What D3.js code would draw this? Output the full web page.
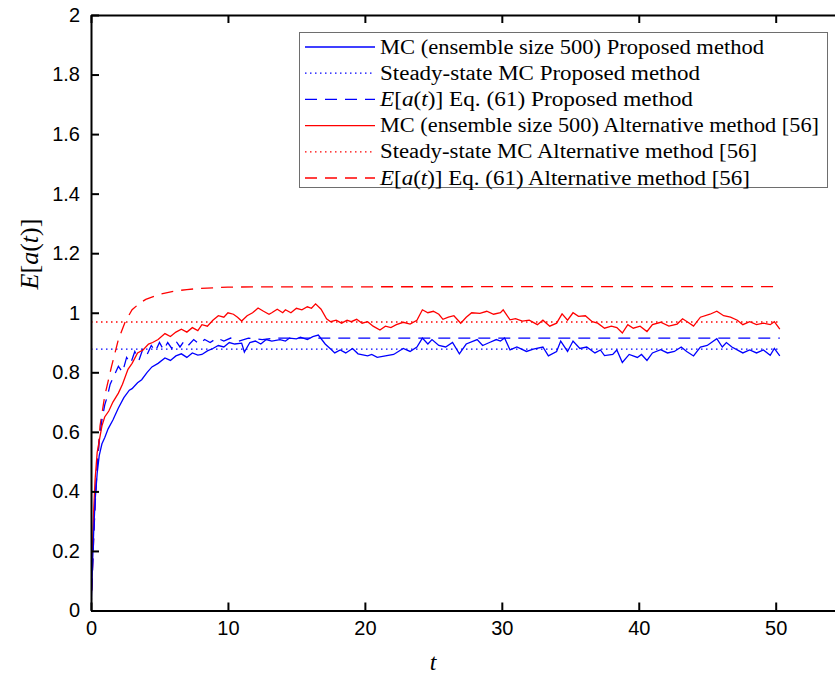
<!DOCTYPE html>
<html>
<head>
<meta charset="utf-8">
<script src="https://cdn.jsdelivr.net/npm/d3@7"></script>
<style>
  body { margin: 0; background: #fff; }
  .tick text { font-family: "Liberation Sans", Arial, sans-serif; font-size: 20px; fill: #000; }
  .leg text { font-family: "Liberation Serif", serif; font-size: 20px; fill: #000; }
</style>
</head>
<body>
<svg id="chart"></svg>
<script>
var width = 835;
var height = 678;

// series, [t, value]
var mcProposed = [
  [0,0],[0.1,0.14],[0.2,0.27],[0.3,0.37],[0.45,0.46],[0.6,0.52],[0.8,0.56],[1.0,0.58],
  [1.25,0.61],[1.6,0.64],[2.0,0.68],[2.4,0.715],[2.8,0.74],[3.0,0.745],[3.4,0.765],[3.7,0.775],
  [4.1,0.80],[4.45,0.818],[4.9,0.83],[5.4,0.848],[5.8,0.84],[6.2,0.855],[6.6,0.862],[7.0,0.85],
  [7.4,0.865],[7.8,0.858],[8.1,0.86],[8.5,0.872],[8.9,0.88],[9.3,0.89],[9.7,0.885],[10.1,0.9],
  [10.5,0.895],[11.0,0.898],[11.2,0.868],[11.6,0.9],[12.0,0.905],[12.4,0.895],[12.8,0.91],[13.2,0.905],
  [13.8,0.91],[14.2,0.905],[14.5,0.915],[15.0,0.912],[15.3,0.918],[15.8,0.91],[16.2,0.92],[16.6,0.925],
  [17.1,0.895],[17.5,0.878],[17.8,0.865],[18.2,0.875],[18.6,0.865],[19.1,0.88],[19.5,0.862],[20.2,0.855],
  [20.5,0.86],[20.9,0.85],[21.5,0.855],[22.1,0.86],[22.8,0.88],[23.3,0.87],[23.8,0.885],[24.2,0.915],
  [24.6,0.895],[24.9,0.91],[25.4,0.89],[25.9,0.885],[26.4,0.9],[26.9,0.862],[27.4,0.895],[28.2,0.91],
  [28.6,0.89],[29.1,0.9],[29.6,0.91],[29.9,0.905],[30.2,0.915],[30.6,0.875],[31.1,0.885],[31.8,0.87],
  [32.3,0.878],[33.0,0.885],[33.4,0.855],[34.0,0.87],[34.3,0.905],[34.8,0.87],[35.2,0.905],[35.7,0.88],
  [36.2,0.885],[36.8,0.865],[37.2,0.875],[37.5,0.856],[38.1,0.86],[38.4,0.875],[38.8,0.833],[39.3,0.86],
  [39.9,0.85],[40.2,0.86],[40.6,0.84],[41.0,0.865],[41.6,0.876],[42.1,0.865],[42.6,0.87],[43.1,0.885],
  [43.5,0.87],[44.0,0.855],[44.5,0.885],[45.0,0.89],[45.7,0.913],[46.1,0.885],[46.4,0.9],[46.8,0.885],
  [47.6,0.865],[48.1,0.875],[48.6,0.865],[49.1,0.875],[49.6,0.857],[49.9,0.88],[50.3,0.855]
];

var mcAlternative = [
  [0,0],[0.1,0.2],[0.2,0.34],[0.3,0.44],[0.45,0.53],[0.6,0.57],[0.8,0.62],[1.0,0.65],
  [1.3,0.67],[1.6,0.70],[2.0,0.73],[2.3,0.76],[2.7,0.81],[3.0,0.83],[3.4,0.865],[3.8,0.875],
  [4.2,0.895],[4.5,0.90],[4.9,0.91],[5.4,0.93],[5.8,0.92],[6.2,0.935],[6.6,0.945],[7.0,0.935],
  [7.4,0.95],[7.8,0.94],[8.1,0.96],[8.5,0.955],[8.9,0.975],[9.3,0.99],[9.7,0.985],[10.0,1.0],
  [10.4,0.995],[10.7,0.985],[11.0,0.972],[11.4,0.99],[11.8,1.0],[12.2,1.016],[12.6,1.005],[13.0,0.995],
  [13.2,1.0],[13.6,1.012],[14.0,1.0],[14.2,1.01],[14.6,1.0],[15.0,1.015],[15.4,1.01],[15.8,1.02],
  [16.1,1.015],[16.4,1.03],[16.8,1.012],[17.2,0.98],[17.5,0.97],[17.9,0.975],[18.3,0.965],[18.7,0.975],
  [19.0,0.97],[19.4,0.978],[19.8,0.965],[20.2,0.97],[20.6,0.955],[21.1,0.942],[21.5,0.955],[21.9,0.95],
  [22.3,0.96],[22.8,0.968],[23.3,0.962],[23.8,0.975],[24.2,1.01],[24.6,1.0],[25.0,1.005],[25.4,0.995],
  [25.7,0.978],[26.1,0.985],[26.5,0.99],[27.0,0.965],[27.4,0.985],[27.8,1.0],[28.4,0.998],[28.9,1.005],
  [29.4,0.995],[29.9,1.0],[30.1,1.01],[30.6,0.976],[31.0,0.98],[31.5,0.972],[32.0,0.975],[32.6,0.96],
  [33.0,0.975],[33.5,0.955],[34.0,0.965],[34.4,0.996],[34.8,0.975],[35.2,1.0],[35.6,0.988],[36.1,0.99],
  [36.6,0.97],[37.0,0.965],[37.5,0.948],[38.0,0.955],[38.4,0.95],[38.8,0.932],[39.2,0.96],[39.6,0.948],
  [40.1,0.955],[40.6,0.937],[41.0,0.96],[41.6,0.968],[42.2,0.955],[42.8,0.962],[43.2,0.98],[43.7,0.965],
  [44.0,0.955],[44.5,0.985],[45.2,0.995],[45.7,1.005],[46.2,0.99],[46.7,0.985],[47.2,0.975],[47.6,0.96],
  [48.1,0.97],[48.6,0.96],[49.1,0.965],[49.6,0.96],[49.9,0.97],[50.3,0.945]
];

var eqProposed = [
  [0,0],[0.1,0.12],[0.2,0.25],[0.3,0.36],[0.45,0.48],[0.6,0.57],[0.8,0.64],[1.0,0.69],
  [1.2,0.72],[1.4,0.76],[1.7,0.79],[2.0,0.82],[2.3,0.80],[2.6,0.85],[2.9,0.83],[3.2,0.87],
  [3.5,0.84],[3.8,0.88],[4.1,0.86],[4.4,0.89],[4.7,0.87],[5.0,0.9],[5.3,0.875],[5.6,0.9],
  [5.9,0.88],[6.2,0.905],[6.5,0.885],[6.8,0.905],[7.1,0.89],[7.5,0.91],[7.9,0.895],[8.3,0.91],
  [8.7,0.9],[9.2,0.915],[9.7,0.905],[10.2,0.915],[10.8,0.905],[11.5,0.915],[12.5,0.91],[13.5,0.915],
  [50.3,0.915]
];

var eqAlternative = [
  [0,0],[0.2,0.25],[0.4,0.45],[0.66,0.62],[1.0,0.72],[1.5,0.82],[2.0,0.91],[2.5,0.97],
  [3.0,1.01],[3.5,1.03],[4.0,1.045],[5.0,1.062],[6.0,1.072],[7.0,1.078],[8.0,1.082],[10.0,1.086],
  [12.0,1.087],[50.3,1.088]
];

var steadyProposed = [[0,0.878],[50.3,0.878]];
var steadyAlternative = [[0,0.969],[50.3,0.969]];

var xTicks = [0, 10, 20, 30, 40, 50];
var yTicks = [0, 0.2, 0.4, 0.6, 0.8, 1, 1.2, 1.4, 1.6, 1.8, 2];

var series = [
  { data: mcProposed, color: "#0000ff", dash: null, label: "MC (ensemble size 500) Proposed method", w: 384 },
  { data: steadyProposed, color: "#0000ff", dash: "1.5,3.5", label: "Steady-state MC Proposed method", w: 320 },
  { data: eqProposed, color: "#0000ff", dash: "12,8", label: "Eq. (61) Proposed method", math: true, w: 313 },
  { data: mcAlternative, color: "#ff0000", dash: null, label: "MC (ensemble size 500) Alternative method [56]", w: 439 },
  { data: steadyAlternative, color: "#ff0000", dash: "1.5,3.5", label: "Steady-state MC Alternative method [56]", w: 377 },
  { data: eqAlternative, color: "#ff0000", dash: "12,8", label: "Eq. (61) Alternative method [56]", math: true, w: 370 }
];

var plotLeft = 91, plotTop = 15, plotBottom = 610.5;
var x = d3.scaleLinear().domain([0, 55]).range([plotLeft, plotLeft + 55 * 13.694]);
var y = d3.scaleLinear().domain([0, 2]).range([plotBottom, plotTop]);

var svg = d3.select("#chart")
  .attr("width", width)
  .attr("height", height);

svg.append("clipPath").attr("id", "clip")
  .append("rect")
    .attr("x", plotLeft).attr("y", plotTop)
    .attr("width", width - plotLeft).attr("height", plotBottom - plotTop);

var line = d3.line()
  .x(function(d) { return x(d[0]); })
  .y(function(d) { return y(d[1]); });

// draw the smooth ones first, MC curves on top
var order = [1, 4, 5, 2, 3, 0];
svg.append("g").attr("clip-path", "url(#clip)")
  .selectAll("path")
  .data(order.map(function(i) { return series[i]; }))
  .enter()
    .append("path")
      .attr("d", function(d) { return line(d.data); })
      .attr("fill", "none")
      .attr("stroke", function(d) { return d.color; })
      .attr("stroke-width", 1.3)
      .attr("stroke-dasharray", function(d) { return d.dash; });

// axes
var fmt = function(d) { return String(+d.toFixed(1)); };

var gx = svg.append("g")
  .attr("transform", "translate(0," + plotBottom + ")")
  .call(d3.axisBottom(x).tickValues(xTicks).tickSizeInner(-8).tickSizeOuter(0).tickPadding(10));
var gxTop = svg.append("g")
  .attr("transform", "translate(0," + plotTop + ")")
  .call(d3.axisTop(x).tickValues(xTicks).tickSizeInner(-8).tickSizeOuter(0).tickFormat(""));
var gy = svg.append("g")
  .attr("transform", "translate(" + plotLeft + ",0)")
  .call(d3.axisLeft(y).tickValues(yTicks).tickSizeInner(-8).tickSizeOuter(0).tickPadding(11).tickFormat(fmt));

[gx, gxTop, gy].forEach(function(g) {
  g.select(".domain").attr("stroke", "#000").attr("stroke-width", 2);
  g.selectAll(".tick line").attr("stroke", "#000").attr("stroke-width", 2);
});

// axis labels
svg.append("text")
  .attr("x", 433)
  .attr("y", 670)
  .attr("text-anchor", "middle")
  .style("font-family", "Liberation Serif, serif")
  .style("font-style", "italic")
  .style("font-size", "24px")
  .text("t");

var yl = svg.append("text")
  .attr("transform", "translate(38,254) rotate(-90)")
  .attr("text-anchor", "middle")
  .style("font-family", "Liberation Serif, serif")
  .style("font-size", "26px");
yl.append("tspan").style("font-style", "italic").text("E");
yl.append("tspan").text("[");
yl.append("tspan").style("font-style", "italic").text("a");
yl.append("tspan").text("(");
yl.append("tspan").style("font-style", "italic").text("t");
yl.append("tspan").text(")]");

// legend
var leg = svg.append("g").attr("class", "leg");
leg.append("rect")
  .attr("x", 299.5).attr("y", 32.5)
  .attr("width", 528).attr("height", 155)
  .attr("fill", "#fff")
  .attr("stroke", "#6e6e6e")
  .attr("stroke-width", 1);

var rows = leg.selectAll(".row")
  .data(series)
  .enter()
    .append("g")
      .attr("class", "row")
      .attr("transform", function(d, i) { return "translate(0," + (47 + i * 26.2) + ")"; });

rows.append("line")
  .attr("x1", 305).attr("x2", 375)
  .attr("stroke", function(d) { return d.color; })
  .attr("stroke-width", 1.3)
  .attr("stroke-dasharray", function(d) { return d.dash; });

rows.each(function(d) {
  var t = d3.select(this).append("text")
    .attr("x", 380)
    .attr("y", 6.5)
    .attr("textLength", d.w)
    .attr("lengthAdjust", "spacingAndGlyphs");
  if (d.math) {
    t.append("tspan").style("font-style", "italic").text("E");
    t.append("tspan").text("[");
    t.append("tspan").style("font-style", "italic").text("a");
    t.append("tspan").text("(");
    t.append("tspan").style("font-style", "italic").text("t");
    t.append("tspan").text(")] " + d.label);
  } else {
    t.text(d.label);
  }
});
</script>
</body>
</html>
